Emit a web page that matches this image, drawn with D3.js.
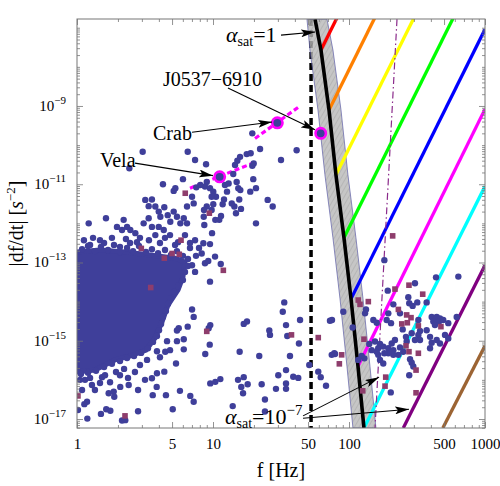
<!doctype html>
<meta charset="utf-8">
<style>
body { margin: 0; background: #fff; }
svg text { font-family: "Liberation Serif", "DejaVu Serif", serif; fill: #000; }
</style>
<script src="https://d3js.org/d3.v7.min.js"></script>
<body>
<svg id="chart" width="500" height="486"></svg>
<script>
// all positions are [log10 f (Hz), log10 |df/dt| (s^-2)]
var xTickLabels = [1, 5, 10, 50, 100, 500, 1000];
var yTickExps = [-17, -15, -13, -11, -9];

// r-mode boundary curve and its uncertainty band
var curveLogF  = [1.750, 1.794, 1.853, 1.904, 1.963, 2.015, 2.066, 2.110];
var curveLogFd = [-6.78, -7.57, -9.10, -10.76, -12.37, -13.93, -15.65, -17.23];
var bandLowLogF  = [1.691, 1.713, 1.772, 1.823, 1.882, 1.934, 1.985, 2.029];
var bandHighLogF = [1.838, 1.882, 1.941, 1.992, 2.051, 2.103, 2.154, 2.198];

// saturation lines (alpha_sat = 1 ... 1e-8)
var satColors = ["#ff0000", "#ff8000", "#ffff00", "#00ff00", "#0000ff", "#ff00ff", "#00ffff", "#800080", "#9c6433"];
var satStart = [[1.794, -7.57], [1.853, -9.10], [1.904, -10.76], [1.963, -12.37], [2.015, -13.93], [2.066, -15.65], [2.110, -17.23], [2.399, -17.23], [2.690, -17.23]];
var satEnd   = [[1.947, -6.5], [2.225, -6.5], [2.513, -6.5], [2.802, -6.5], [3, -7.04], [3, -9.08], [3, -11.05], [3, -13.07], [3, -15.13]];

var dashLogF = 1.721;                       // vertical dashed line
var dashDot = [[2.353, -6.78], [2.191, -17.23]];
var velaTrack = [[0.831, -11.10], [1.309, -10.44]];
var crabTrack = [[1.309, -9.83], [1.640, -9.00]];
var special = [[1.049, -10.81], [1.473, -9.43], [1.792, -9.70]]; // Vela, Crab, J0537-6910

// dense core of the pulsar population
var core = [[-0.1, -12.73], [0, -12.73], [0.169, -12.68], [0.353, -12.73], [0.537, -12.81], [0.721, -12.89], [0.794, -12.99],
  [0.779, -13.37], [0.743, -13.70], [0.669, -14.09], [0.625, -14.52], [0.574, -14.93], [0.507, -15.24], [0.390, -15.39],
  [0.279, -15.49], [0.132, -15.75], [0, -15.80], [-0.1, -15.80]];

var pulsars = [
 [0.483,-10.17],[0.385,-10.59],[0.814,-10.17],[0.868,-10.38],[0.949,-10.49],[1.199,-10.30],[1.248,-10.23],[1.179,-10.40],[1.289,-9.70],[1.346,-10.10],
 [1.162,-10.51],[1.615,-10.13],[1.500,-10.38],[1.289,-10.53],[1.296,-10.87],[1.316,-11.10],[1.402,-11.40],[1.439,-11.57],[1.316,-12.00],[1.149,-10.74],
 [1.174,-10.94],[1.186,-11.10],[1.088,-11.02],[1.193,-11.39],[1.206,-11.63],[1.157,-11.57],[1.138,-11.49],[1.169,-11.74],[1.081,-11.39],[1.071,-11.51],
 [1.059,-11.81],[1.046,-11.91],[1.002,-11.51],[0.990,-11.66],[0.954,-11.57],[0.934,-11.66],[0.954,-10.94],[0.978,-11.10],[1.002,-11.19],[1.022,-11.32],
 [0.990,-11.32],[0.941,-11.06],[0.936,-12.04],[0.993,-12.25],[0.978,-12.53],[0.929,-12.51],[0.917,-12.77],[0.941,-13.02],[1.015,-12.85],[1.057,-13.04],
 [0.978,-13.49],[0.779,-10.87],[0.632,-11.00],[0.723,-11.10],[0.711,-11.17],[0.877,-11.08],[0.907,-11.02],[0.846,-11.32],[0.858,-11.49],[0.809,-11.57],
 [0.502,-11.40],[0.551,-11.39],[0.527,-11.56],[0.576,-11.57],[0.601,-11.70],[0.642,-11.59],[0.613,-11.83],[0.667,-11.79],[0.711,-11.70],[0.735,-11.83],
 [0.785,-11.87],[0.686,-11.96],[0.760,-12.00],[0.809,-12.00],[0.932,-11.83],[1.017,-11.91],[0.086,-12.00],[0.213,-11.87],[0.343,-11.91],[0.368,-12.09],
 [0.294,-12.09],[0.331,-12.17],[0.392,-12.17],[0.429,-12.25],[0.490,-12.00],[0.527,-11.87],[0.551,-12.09],[0.601,-12.09],[0.638,-12.17],[0.576,-12.30],
 [1.277,-10.21],[1.103,-11.19],[1.115,-10.98],[1.299,-10.47],[1.201,-11.15],[1.274,-11.19],
 [0.169,-12.43],[0.257,-12.37],[0.096,-12.55],[0.463,-12.37],[0.684,-12.30],[0.794,-12.30],[0.868,-12.43],[0.721,-12.55],[0.610,-12.50],[0.390,-12.50],
 [0.831,-12.63],[0.316,-12.60],[0.846,-13.07],[0.868,-13.24],
 // edge of the dense core
 [0.037,-12.66],[0.081,-12.58],[0.132,-12.71],[0.176,-12.60],[0.228,-12.68],[0.272,-12.55],[0.316,-12.73],[0.368,-12.63],[0.412,-12.71],[0.456,-12.58],
 [0.507,-12.73],[0.551,-12.66],[0.596,-12.76],[0.647,-12.68],[0.691,-12.81],[0.735,-12.71],[0.779,-12.83],[0.816,-12.91],[0.051,-12.43],[0.118,-12.37],
 [0.199,-12.50],[0.360,-12.40],[0.441,-12.48],[0.529,-12.43],[0.647,-12.37],[0.743,-12.48],[0.831,-12.50],[0.897,-12.63],[0.875,-12.83],
 [0.816,-13.09],[0.794,-13.24],[0.779,-13.45],[0.743,-13.60],[0.713,-13.75],[0.684,-13.91],[0.669,-14.06],[0.654,-14.24],[0.632,-14.39],[0.618,-14.57],
 [0.603,-14.73],[0.588,-14.88],[0.559,-15.03],[0.522,-15.19],[0.471,-15.31],[0.419,-15.39],[0.368,-15.44],[0.316,-15.52],[0.257,-15.59],[0.199,-15.67],
 [0.140,-15.77],[0.081,-15.82],[0.029,-15.85],
 [0.059,-16.00],[0.110,-16.13],[0.184,-15.93],[0.243,-16.06],[0.287,-15.80],[0.346,-15.72],[0.463,-15.62],[0.515,-15.49],[0.610,-15.42],[0.684,-15.24],
 // mid and low spin-down
 [0.965,-12.96],[0.846,-14.20],[0.858,-14.39],[0.980,-14.60],[0.968,-14.68],[1.250,-14.51],[1.226,-14.57],[0.748,-14.68],[0.735,-14.74],[0.785,-14.96],
 [0.735,-15.01],[0.662,-15.01],[0.785,-15.22],[0.649,-15.28],[0.588,-15.27],[0.976,-15.10],[0.943,-15.34],[1.196,-15.28],[0.728,-15.58],[0.642,-15.79],
 [0.814,-14.64],[1.524,-14.02],[1.513,-14.26],[1.414,-14.74],[1.419,-14.85],[1.537,-14.60],[1.640,-14.47],[1.546,-14.88],[1.632,-15.07],[1.860,-14.49],
 [1.340,-15.39],[1.566,-15.39],[1.708,-15.62],[1.897,-15.34],
 [0.980,-16.09],[1.017,-16.05],[1.054,-15.98],[1.184,-16.00],[1.226,-15.93],[1.255,-16.11],[1.208,-16.18],[1.221,-16.34],[0.833,-16.41],[0.858,-16.56],
 [0.654,-16.39],[0.557,-16.39],[0.449,-16.26],[0.704,-16.75],[1.145,-16.67],[0.449,-16.80],[0.355,-17.03],[0.331,-17.04],[0.176,-16.87],[0.215,-16.75],
 [0.245,-16.79],[0.074,-16.56],[0.054,-16.62],[0.233,-16.34],[0.270,-16.30],[0.274,-16.43],[0.551,-15.96],[0.588,-15.83],[0.380,-16.13],[0.318,-16.18],
 [0.076,-16.99],[0.586,-16.18],[0.757,-16.28],[1.358,-16.11],[1.480,-15.88],[1.537,-15.75],[1.537,-16.09],[1.463,-16.23],[1.537,-16.23],[1.590,-15.92],
 [1.627,-15.95],[1.774,-15.79],[1.792,-15.93],[1.831,-16.15],[1.382,-16.81],[1.382,-16.50],
 [0.022,-16.00],[0.096,-15.95],[0.169,-16.08],[0.132,-16.26],[0.037,-16.26],[0.316,-15.88],[0.426,-15.80],[0.206,-15.88],[0.375,-15.95],[0.500,-16.00],
 [0.007,-16.77],
 // millisecond pulsars
 [2.260,-12.94],[2.118,-14.30],[2.113,-15.45],[2.640,-13.38],[2.804,-13.36],[2.485,-13.53],[2.285,-13.72],[2.436,-13.89],[2.443,-14.04],[2.468,-14.11],
 [2.502,-14.02],[2.571,-14.02],[1.958,-14.26],[2.125,-14.20],[2.326,-14.07],[2.375,-14.30],[2.289,-14.30],[2.277,-14.47],[2.309,-14.55],[2.395,-14.71],
 [1.875,-14.47],[2.179,-14.47],[2.204,-14.54],[2.027,-14.66],[2.510,-14.47],[2.608,-14.39],[2.645,-14.39],[2.669,-14.43],[2.620,-14.51],[2.662,-14.51],
 [2.632,-14.60],[2.693,-14.47],[2.730,-14.55],[2.792,-14.39],[2.571,-14.73],[2.522,-14.75],[2.510,-14.85],[2.461,-14.81],[2.485,-14.98],[2.522,-14.98],
 [2.596,-14.90],[2.608,-15.05],[2.645,-14.98],[2.669,-15.07],[2.706,-14.85],[2.730,-14.94],[2.596,-15.19],[2.419,-14.90],[2.424,-15.02],[2.449,-15.47],
 [2.461,-15.56],[2.473,-15.66],[2.443,-15.88],[1.892,-15.32],[1.873,-15.36],[2.093,-15.39],[2.068,-15.49],[2.307,-16.32],
 [2.149,-15.08],[2.191,-15.02],[2.228,-15.08],[2.215,-15.19],[2.252,-15.15],[2.289,-15.19],[2.314,-15.07],[2.338,-14.98],[2.326,-15.24],[2.375,-15.17],
 [2.399,-15.28],[2.363,-15.36],[2.326,-15.36],[2.289,-15.32],[2.260,-15.32],[2.215,-15.36],[2.228,-15.49],[2.252,-15.58],[2.204,-15.28],[2.167,-15.24]
];

// pulsars drawn as squares
var squares = [
 [0.796,-11.23],[0.973,-11.74],[0.765,-12.43],[0.473,-12.64],[0.642,-12.89],[0.699,-12.77],[0.752,-12.79],[1.076,-13.20],[0.542,-13.64],[0.954,-14.76],
 [0.007,-16.41],[0.353,-16.92],[1.577,-14.85],[1.774,-14.92],[1.929,-15.59],[2.068,-13.96],[2.081,-14.07],[2.142,-14.00],[2.441,-13.58],[2.338,-13.68],
 [2.542,-13.81],[2.363,-14.20],[2.424,-14.34],[2.456,-14.41],[2.429,-14.54],[2.388,-14.57],[2.510,-14.62],[2.676,-14.64],[2.110,-14.96],[2.419,-15.13],
 [2.441,-15.28],[2.510,-15.32],[2.493,-15.75],[1.946,-15.36],[2.270,-15.93],[2.265,-16.16],[2.101,-16.28],[2.493,-16.33],[2.321,-12.32]
];

// annotations: text anchor and arrow [from, to]
var labels = [
  {text: "Vela", at: [0.169, -10.56], arrows: [[[0.426, -10.46], [1.000, -10.78]]]},
  {text: "Crab", at: [0.559, -9.87], arrows: [[[0.846, -9.67], [1.434, -9.41]]]},
  {text: "J0537\u22126910", at: [0.632, -8.49], arrows: [[[1.110, -8.54], [1.750, -9.61]]]}
];
var alphaTop = {at: [1.096, -7.36], value: "1", arrows: [[[1.500, -7.19], [1.750, -7.11]]]};
var alphaBottom = {at: [1.088, -17.13], value: "\u22127",
  arrows: [[[1.662, -16.92], [2.221, -15.93]], [[1.662, -16.98], [2.441, -16.75]]]};

var svg = d3.select("#chart");
var pL = 77, pR = 485, pT = 19, pB = 428;
var x = d3.scaleLog().domain([1, 1000]).range([pL, pR]);
var y = d3.scaleLog().domain([Math.pow(10, -17.23), Math.pow(10, -6.777)]).range([pB, pT]);
function X(v) { return x(Math.pow(10, v)); }
function Y(v) { return y(Math.pow(10, v)); }
var line = d3.line().x(function(d) { return X(d[0]); }).y(function(d) { return Y(d[1]); });

var defs = svg.append("defs");
defs.append("clipPath").attr("id", "plot").append("rect")
    .attr("x", pL).attr("y", pT).attr("width", pR - pL).attr("height", pB - pT);
defs.append("marker").attr("id", "head").attr("viewBox", "0 0 14 8").attr("refX", 14).attr("refY", 4)
    .attr("markerWidth", 14).attr("markerHeight", 8).attr("markerUnits", "userSpaceOnUse").attr("orient", "auto")
  .append("path").attr("d", "M0,0L14,4L0,8L3,4Z").attr("fill", "#000");
var hatch = defs.append("pattern").attr("id", "hatch").attr("patternUnits", "userSpaceOnUse")
    .attr("width", 4).attr("height", 4).attr("patternTransform", "rotate(30)");
hatch.append("rect").attr("width", 4).attr("height", 4).attr("fill", "#b8b8b8");
hatch.append("line").attr("x1", 0).attr("y1", 0).attr("x2", 0).attr("y2", 4).attr("stroke", "#909090").attr("stroke-width", 1);

var g = svg.append("g").attr("clip-path", "url(#plot)");

// vertical dashed line
g.append("line").attr("x1", X(dashLogF)).attr("x2", X(dashLogF)).attr("y1", pT).attr("y2", pB)
    .attr("stroke", "#000").attr("stroke-width", 3.5).attr("stroke-dasharray", "7,4");

// band
var bandPts = curveLogFd.map(function(v, i) { return [bandLowLogF[i], v]; })
    .concat(curveLogFd.map(function(v, i) { return [bandHighLogF[i], v]; }).reverse());
g.append("path").attr("d", line(bandPts) + "Z").attr("fill", "url(#hatch)").attr("opacity", 0.8)
    .attr("stroke", "#4a4a9a").attr("stroke-width", 0.8);

// saturation lines
satColors.forEach(function(c, i) {
  g.append("path").attr("d", line([satStart[i], satEnd[i]])).attr("stroke", c)
      .attr("stroke-width", 3.3).attr("fill", "none");
});

// boundary curve
g.append("path").attr("d", line(curveLogF.map(function(v, i) { return [v, curveLogFd[i]]; })))
    .attr("stroke", "#000").attr("stroke-width", 3.6).attr("fill", "none");

g.append("path").attr("d", line(dashDot)).attr("stroke", "#8b2b8b").attr("stroke-width", 1.2)
    .attr("stroke-dasharray", "7,3,1.5,3").attr("fill", "none");

[velaTrack, crabTrack].forEach(function(t) {
  g.append("path").attr("d", line(t)).attr("stroke", "#ff00ff").attr("stroke-width", 3.2)
      .attr("stroke-dasharray", "5,3").attr("fill", "none");
});

// pulsars
var blue = "#3f3f9a";
g.append("path").attr("d", line(core) + "Z").attr("fill", blue).attr("stroke", blue)
    .attr("stroke-width", 5).attr("stroke-linejoin", "round");
g.selectAll("circle.psr").data(pulsars).enter().append("circle").attr("class", "psr")
    .attr("cx", function(d) { return X(d[0]); }).attr("cy", function(d) { return Y(d[1]); })
    .attr("r", 3.2).attr("fill", blue);
g.selectAll("rect.sq").data(squares).enter().append("rect").attr("class", "sq")
    .attr("x", function(d) { return X(d[0]) - 2.8; }).attr("y", function(d) { return Y(d[1]) - 2.8; })
    .attr("width", 5.6).attr("height", 5.6).attr("fill", "#8e3d6c");
g.selectAll("circle.sp").data(special).enter().append("circle").attr("class", "sp")
    .attr("cx", function(d) { return X(d[0]); }).attr("cy", function(d) { return Y(d[1]); })
    .attr("r", 5.2).attr("fill", blue).attr("stroke", "#ff00ff").attr("stroke-width", 2.6);

// frame and ticks
var tickColor = "#777";
var xMinor = [];
[1, 10, 100].forEach(function(p) { d3.range(2, 10).forEach(function(m) { if (xTickLabels.indexOf(m * p) < 0) xMinor.push(m * p); }); });
var yMajor = yTickExps.map(function(e) { return Math.pow(10, e); });
var yMinor = [];
d3.range(-18, -6).forEach(function(e) {
  d3.range(1, 10).forEach(function(m) {
    var v = m * Math.pow(10, e);
    var inside = v >= y.domain()[0] && v <= y.domain()[1];
    if (inside && (m > 1 || yTickExps.indexOf(e) < 0)) yMinor.push(v);
  });
});
function styleAxis(sel) {
  sel.select(".domain").remove();
  sel.selectAll("line").attr("stroke", tickColor).attr("stroke-width", 0.8);
}
[[d3.axisBottom, pB, 1], [d3.axisTop, pT, 0]].forEach(function(a) {
  svg.append("g").attr("transform", "translate(0," + a[1] + ")")
      .call(a[0](x).tickValues(xMinor).tickSize(-3).tickFormat("")).call(styleAxis);
  var ax = svg.append("g").attr("transform", "translate(0," + a[1] + ")")
      .call(a[0](x).tickValues(xTickLabels).tickSize(-6).tickPadding(10)
        .tickFormat(a[2] ? d3.format("d") : function() { return ""; }))
      .call(styleAxis);
  ax.selectAll("text").attr("font-size", 15).attr("font-family", "Liberation Serif").attr("fill", "#000");
});
[[d3.axisLeft, pL], [d3.axisRight, pR]].forEach(function(a) {
  svg.append("g").attr("transform", "translate(" + a[1] + ",0)")
      .call(a[0](y).tickValues(yMinor).tickSize(-3).tickFormat("")).call(styleAxis);
  svg.append("g").attr("transform", "translate(" + a[1] + ",0)")
      .call(a[0](y).tickValues(yMajor).tickSize(-6).tickFormat("")).call(styleAxis);
});
yTickExps.forEach(function(e) {
  var t = svg.append("text").attr("x", pL - 11).attr("y", y(Math.pow(10, e)) + 5)
      .attr("text-anchor", "end").attr("font-size", 15);
  t.append("tspan").text("10");
  t.append("tspan").attr("dy", -7).attr("font-size", 11).text("\u2212" + (-e));
});
svg.append("rect").attr("x", pL).attr("y", pT).attr("width", pR - pL).attr("height", pB - pT)
    .attr("fill", "none").attr("stroke", tickColor).attr("stroke-width", 1);

// axis titles
svg.append("text").attr("x", (pL + pR) / 2).attr("y", 477).attr("text-anchor", "middle")
    .attr("font-size", 20).text("f [Hz]");
var yl = svg.append("text").attr("transform", "translate(23," + (pT + pB) / 2 + ") rotate(-90)")
    .attr("text-anchor", "middle").attr("font-size", 20);
yl.append("tspan").text("|df/dt| [");
yl.append("tspan").attr("font-style", "italic").text("s");
yl.append("tspan").attr("dy", -8).attr("font-size", 13).text("\u22122");
yl.append("tspan").attr("dy", 8).text("]");

// annotations
function arrows(list) {
  list.forEach(function(a) {
    svg.append("path").attr("d", line(a)).attr("stroke", "#000").attr("stroke-width", 1.1)
        .attr("fill", "none").attr("marker-end", "url(#head)");
  });
}
labels.forEach(function(l) {
  svg.append("text").attr("x", X(l.at[0])).attr("y", Y(l.at[1])).attr("font-size", 20).text(l.text);
  arrows(l.arrows);
});
[alphaTop, alphaBottom].forEach(function(l, i) {
  var t = svg.append("text").attr("x", X(l.at[0])).attr("y", Y(l.at[1])).attr("font-size", 22);
  t.append("tspan").attr("font-style", "italic").text("\u03b1");
  t.append("tspan").attr("dy", 4).attr("font-size", 14).text("sat");
  if (i === 0) {
    t.append("tspan").attr("dy", -4).text("=" + l.value);
  } else {
    t.append("tspan").attr("dy", -4).text("=10");
    t.append("tspan").attr("dy", -9).attr("font-size", 15).text(l.value);
  }
  arrows(l.arrows);
});
</script>
</body>
